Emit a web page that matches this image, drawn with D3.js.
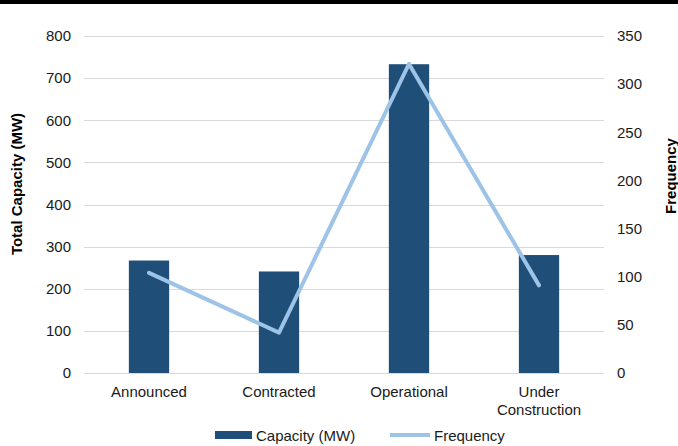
<!DOCTYPE html>
<html>
<head>
<meta charset="utf-8">
<script src="https://cdn.jsdelivr.net/npm/d3@7"></script>
<style>
  html, body { margin: 0; padding: 0; background: #fff; }
  svg { display: block; font-family: "Liberation Sans", Arial, sans-serif; }
</style>
</head>
<body>
<svg id="chart" width="678" height="446"></svg>
<script>
// Project status categories
const categories = ["Announced", "Contracted", "Operational", "Under Construction"];
// Total capacity in MW (bars, left axis)
const capacity = [267, 241, 733, 280];
// Number of projects (line, right axis)
const frequency = [104, 42, 321, 91];
// Axis ticks
const leftTicks = [0, 100, 200, 300, 400, 500, 600, 700, 800];
const rightTicks = [0, 50, 100, 150, 200, 250, 300, 350];

const svg = d3.select("#chart");
const W = 678, H = 446;
const m = { left: 84, right: 74, top: 36, bottom: 73 };
const x0 = m.left, x1 = W - m.right, y0 = H - m.bottom, y1 = m.top;

const barColor = "#1f4e79";
const lineColor = "#9dc3e6";
const gridColor = "#d9d9d9";
const textColor = "#1a1a1a";
const fs = 15;

// Heavy rule across the top
svg.append("rect").attr("x", 0).attr("y", 0).attr("width", W).attr("height", 4).attr("fill", "#000");

const x = d3.scaleBand().domain(categories).range([x0, x1]).paddingInner(0.69).paddingOuter(0.345);
const yL = d3.scaleLinear().domain([0, 800]).range([y0, y1]);
const yR = d3.scaleLinear().domain([0, 350]).range([y0, y1]);

// Gridlines from the left axis
svg.append("g").selectAll("line").data(leftTicks).join("line")
  .attr("x1", x0).attr("x2", x1)
  .attr("y1", d => Math.round(yL(d)) + 0.5).attr("y2", d => Math.round(yL(d)) + 0.5)
  .attr("stroke", gridColor).attr("stroke-width", 1);

// Left axis
const leftAxis = svg.append("g").attr("transform", `translate(${x0},0)`)
  .call(d3.axisLeft(yL).tickValues(leftTicks).tickSize(0).tickPadding(13));
leftAxis.select(".domain").remove();
leftAxis.selectAll("text").attr("font-size", fs).attr("fill", textColor).attr("font-family", "Liberation Sans, Arial, sans-serif");

// Right axis
const rightAxis = svg.append("g").attr("transform", `translate(${x1},0)`)
  .call(d3.axisRight(yR).tickValues(rightTicks).tickSize(0).tickPadding(13));
rightAxis.select(".domain").remove();
rightAxis.selectAll("text").attr("font-size", fs).attr("fill", textColor).attr("font-family", "Liberation Sans, Arial, sans-serif");

// Bars
svg.append("g").selectAll("rect").data(categories).join("rect")
  .attr("x", d => x(d))
  .attr("width", x.bandwidth())
  .attr("y", (d, i) => yL(capacity[i]))
  .attr("height", (d, i) => y0 - yL(capacity[i]))
  .attr("fill", barColor);

// Frequency line
const line = d3.line()
  .x((d, i) => x(categories[i]) + x.bandwidth() / 2)
  .y(d => yR(d));
svg.append("path").datum(frequency)
  .attr("d", line)
  .attr("fill", "none")
  .attr("stroke", lineColor)
  .attr("stroke-width", 4)
  .attr("stroke-linecap", "round")
  .attr("stroke-linejoin", "round");

// Category labels
const xl = svg.append("g");
categories.forEach(c => {
  const words = c === "Under Construction" ? ["Under", "Construction"] : [c];
  const cx = x(c) + x.bandwidth() / 2;
  const t = xl.append("text")
    .attr("x", cx)
    .attr("y", y0 + 24)
    .attr("text-anchor", "middle")
    .attr("font-size", fs)
    .attr("fill", textColor);
  words.forEach((w, i) => {
    t.append("tspan").attr("x", cx).attr("dy", i === 0 ? 0 : 18).text(w);
  });
});

// Axis titles
svg.append("text")
  .attr("transform", `translate(22,184) rotate(-90)`)
  .attr("text-anchor", "middle")
  .attr("font-size", fs).attr("font-weight", "bold").attr("fill", "#000")
  .text("Total Capacity (MW)");
svg.append("text")
  .attr("transform", `translate(676,176) rotate(-90)`)
  .attr("text-anchor", "middle")
  .attr("font-size", fs).attr("font-weight", "bold").attr("fill", "#000")
  .text("Frequency");

// Legend
const lg = svg.append("g");
lg.append("rect").attr("x", 215).attr("y", 431).attr("width", 37).attr("height", 8).attr("fill", barColor);
lg.append("text").attr("x", 256).attr("y", 441).attr("font-size", fs).attr("fill", textColor).text("Capacity (MW)");
lg.append("line").attr("x1", 390).attr("x2", 430).attr("y1", 435).attr("y2", 435)
  .attr("stroke", lineColor).attr("stroke-width", 4);
lg.append("text").attr("x", 434).attr("y", 441).attr("font-size", fs).attr("fill", textColor).text("Frequency");
</script>
</body>
</html>
